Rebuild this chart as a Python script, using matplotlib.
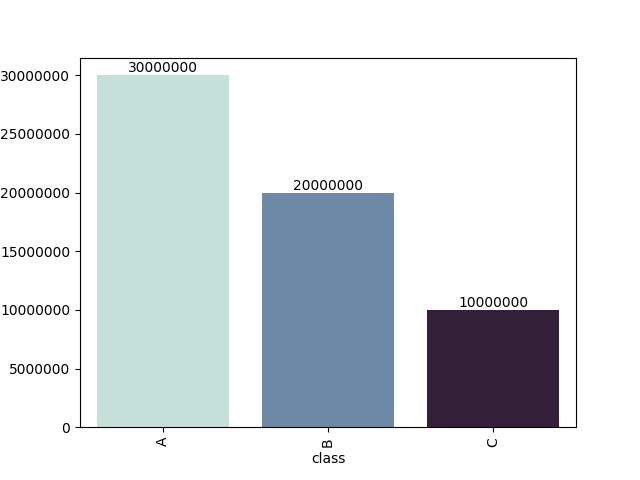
import matplotlib
matplotlib.use('Agg')
import matplotlib.pyplot as plt

classes = ['A', 'B', 'C']
counts = [30000000, 20000000, 10000000]
colors = ['#c5e0d8', '#6e89a5', '#35203a']

fig, ax = plt.subplots(figsize=(6.4, 4.8), dpi=100)
bars = ax.bar(classes, counts, width=0.8, color=colors)
ax.bar_label(bars, labels=[str(c) for c in counts])
ax.ticklabel_format(axis='y', style='plain', useOffset=False)
ax.set_xlim(-0.5, len(classes) - 0.5)
ax.set_xlabel('class')
plt.xticks(rotation=90)
fig.savefig('out.png')
